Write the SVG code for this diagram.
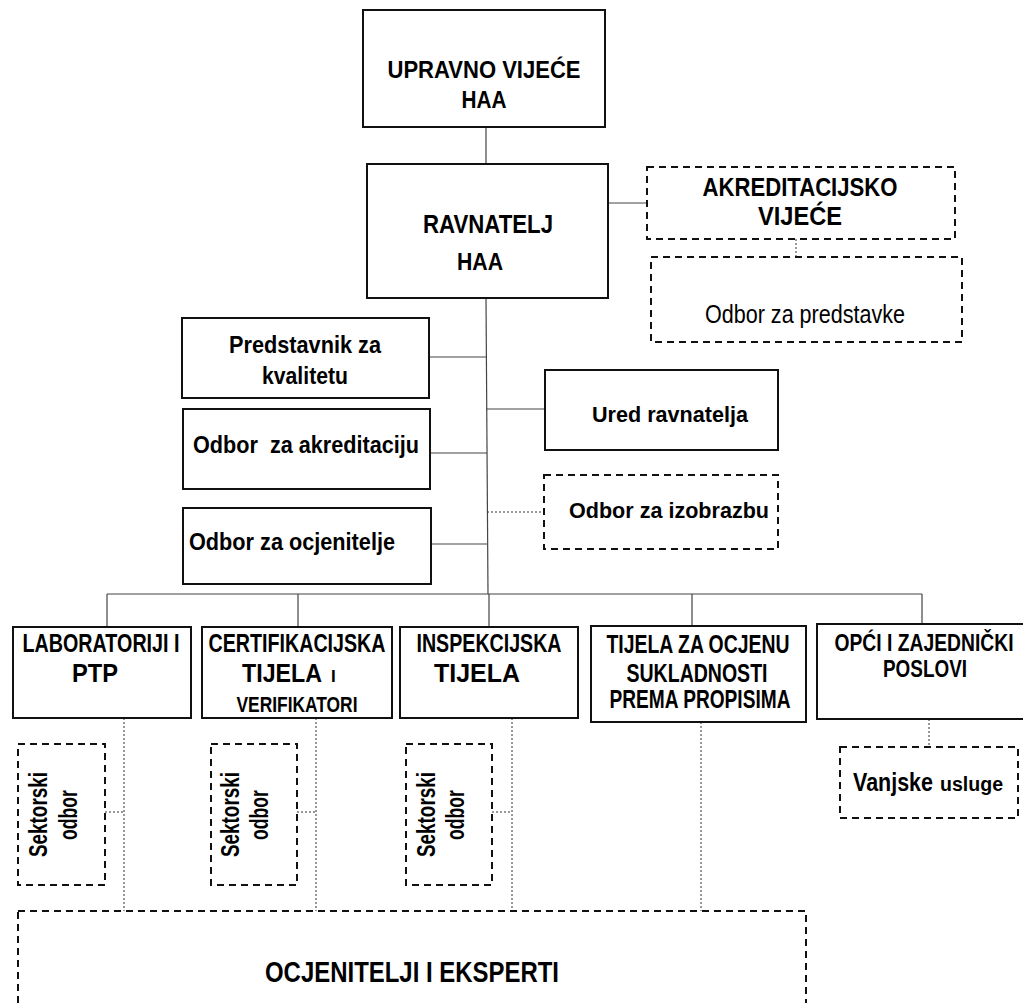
<svg xmlns="http://www.w3.org/2000/svg" width="1023" height="1003" viewBox="0 0 1023 1003">
<style>
.box{fill:#fff;stroke:#111;stroke-width:2}
.dbox{fill:#fff;stroke:#111;stroke-width:2;stroke-dasharray:7 5}
.ln{stroke:#444;stroke-width:1.2;fill:none}
.dot{stroke:#333;stroke-width:1;stroke-dasharray:2 2;fill:none}
text{font-family:"Liberation Sans",Arial,sans-serif;font-weight:bold;fill:#000;text-anchor:middle}
.reg{font-weight:normal}
.st{text-anchor:start}
</style>
<rect width="1023" height="1003" fill="#fff"/>
<g id="connectors">
<line class="ln" x1="486" y1="127" x2="486" y2="164"/>
<line class="ln" x1="608" y1="203" x2="647" y2="203"/>
<line class="dot" x1="796" y1="239" x2="796" y2="257"/>
<line class="ln" x1="486" y1="298" x2="488" y2="594"/>
<line class="ln" x1="429" y1="357" x2="486" y2="357"/>
<line class="ln" x1="430" y1="453" x2="487" y2="453"/>
<line class="ln" x1="431" y1="544" x2="487" y2="544"/>
<line class="ln" x1="486" y1="409" x2="545" y2="409"/>
<line class="dot" x1="487" y1="512" x2="544" y2="512"/>
<line class="ln" x1="107" y1="594" x2="922" y2="594"/>
<line class="ln" x1="107" y1="594" x2="107" y2="627"/>
<line class="ln" x1="298" y1="594" x2="298" y2="627"/>
<line class="ln" x1="489" y1="594" x2="489" y2="627"/>
<line class="ln" x1="692" y1="594" x2="692" y2="626"/>
<line class="ln" x1="922" y1="594" x2="922" y2="624"/>
<line class="dot" x1="124" y1="718" x2="124" y2="911"/>
<line class="dot" x1="316" y1="718" x2="316" y2="911"/>
<line class="dot" x1="512" y1="718" x2="512" y2="911"/>
<line class="dot" x1="701" y1="722" x2="701" y2="911"/>
<line class="dot" x1="929" y1="719" x2="929" y2="747" stroke="#777"/>
<line class="dot" x1="105" y1="812" x2="124" y2="812"/>
<line class="dot" x1="297" y1="812" x2="316" y2="812"/>
<line class="dot" x1="492" y1="812" x2="512" y2="812"/>
</g>
<g id="upravno">
<rect class="box" x="363" y="10" width="242" height="117"/>
<text x="484" y="78" font-size="23" textLength="193" lengthAdjust="spacingAndGlyphs">UPRAVNO VIJEĆE</text>
<text x="484" y="108" font-size="23" textLength="45" lengthAdjust="spacingAndGlyphs">HAA</text>
</g>
<g id="ravnatelj">
<rect class="box" x="367" y="164" width="241" height="134"/>
<text x="488" y="233" font-size="25" textLength="130" lengthAdjust="spacingAndGlyphs">RAVNATELJ</text>
<text x="480" y="270" font-size="24" textLength="46" lengthAdjust="spacingAndGlyphs">HAA</text>
</g>
<g id="akreditacijsko">
<rect class="dbox" x="647" y="167" width="308" height="72"/>
<text x="800" y="196" font-size="26" textLength="195" lengthAdjust="spacingAndGlyphs">AKREDITACIJSKO</text>
<text x="800" y="225" font-size="26" textLength="84" lengthAdjust="spacingAndGlyphs">VIJEĆE</text>
</g>
<g id="predstavke">
<rect class="dbox" x="651" y="257" width="311" height="85"/>
<text class="reg" x="805" y="323" font-size="26" textLength="200" lengthAdjust="spacingAndGlyphs">Odbor za predstavke</text>
</g>
<g id="predstavnik">
<rect class="box" x="182" y="318" width="247" height="80"/>
<text x="305" y="353" font-size="24" textLength="152" lengthAdjust="spacingAndGlyphs">Predstavnik za</text>
<text x="305" y="384" font-size="24" textLength="86" lengthAdjust="spacingAndGlyphs">kvalitetu</text>
</g>
<g id="akreditaciju">
<rect class="box" x="183" y="409" width="247" height="80"/>
<text x="306" y="453" font-size="24" textLength="226" lengthAdjust="spacingAndGlyphs" xml:space="preserve">Odbor  za akreditaciju</text>
</g>
<g id="ured">
<rect class="box" x="545" y="370" width="233" height="80"/>
<text x="670" y="422" font-size="22" textLength="156" lengthAdjust="spacingAndGlyphs">Ured ravnatelja</text>
</g>
<g id="izobrazbu">
<rect class="dbox" x="544" y="475" width="234" height="74"/>
<text x="669" y="518" font-size="22" textLength="200" lengthAdjust="spacingAndGlyphs">Odbor za izobrazbu</text>
</g>
<g id="ocjenitelje">
<rect class="box" x="183" y="508" width="248" height="76"/>
<text class="st" x="189" y="550" font-size="24" textLength="206" lengthAdjust="spacingAndGlyphs">Odbor za ocjenitelje</text>
</g>
<g id="laboratoriji">
<rect class="box" x="13" y="627" width="178" height="91"/>
<text x="101" y="652" font-size="25" textLength="157" lengthAdjust="spacingAndGlyphs">LABORATORIJI I</text>
<text x="95" y="682" font-size="25" textLength="46" lengthAdjust="spacingAndGlyphs">PTP</text>
</g>
<g id="certifikacijska">
<rect class="box" x="202" y="627" width="190" height="91"/>
<text x="297" y="652" font-size="25" textLength="177" lengthAdjust="spacingAndGlyphs">CERTIFIKACIJSKA</text>
<text class="st" x="242" y="682" font-size="25" textLength="80" lengthAdjust="spacingAndGlyphs">TIJELA</text>
<text class="st" x="331" y="682" font-size="17">I</text>
<text x="297" y="712" font-size="22" textLength="121" lengthAdjust="spacingAndGlyphs">VERIFIKATORI</text>
</g>
<g id="inspekcijska">
<rect class="box" x="400" y="627" width="178" height="91"/>
<text x="489" y="652" font-size="25" textLength="145" lengthAdjust="spacingAndGlyphs">INSPEKCIJSKA</text>
<text x="477" y="682" font-size="25" textLength="86" lengthAdjust="spacingAndGlyphs">TIJELA</text>
</g>
<g id="tijela">
<rect class="box" x="591" y="626" width="215" height="96"/>
<text x="698" y="653" font-size="25" textLength="183" lengthAdjust="spacingAndGlyphs">TIJELA ZA OCJENU</text>
<text x="697" y="682" font-size="25" textLength="141" lengthAdjust="spacingAndGlyphs">SUKLADNOSTI</text>
<text x="700" y="708" font-size="25" textLength="181" lengthAdjust="spacingAndGlyphs">PREMA PROPISIMA</text>
</g>
<g id="opci">
<path class="box" d="M1023,624 H817 V719 H1023"/>
<text transform="translate(924 651) scale(0.84 1)" font-size="23">OPĆI I ZAJEDNIČKI</text>
<text x="925" y="677" font-size="23" textLength="84" lengthAdjust="spacingAndGlyphs">POSLOVI</text>
</g>
<g id="sektorski1">
<rect class="dbox" x="18" y="744" width="87" height="141"/>
<text transform="translate(47,814.5) rotate(-90)" font-size="26" textLength="85" lengthAdjust="spacingAndGlyphs">Sektorski</text>
<text transform="translate(77,815) rotate(-90)" font-size="26" textLength="50" lengthAdjust="spacingAndGlyphs">odbor</text>
</g>
<g id="sektorski2">
<rect class="dbox" x="211" y="744" width="86" height="141"/>
<text transform="translate(239,814.5) rotate(-90)" font-size="26" textLength="85" lengthAdjust="spacingAndGlyphs">Sektorski</text>
<text transform="translate(268,815) rotate(-90)" font-size="26" textLength="50" lengthAdjust="spacingAndGlyphs">odbor</text>
</g>
<g id="sektorski3">
<rect class="dbox" x="406" y="744" width="86" height="141"/>
<text transform="translate(435,814.5) rotate(-90)" font-size="26" textLength="85" lengthAdjust="spacingAndGlyphs">Sektorski</text>
<text transform="translate(464,815) rotate(-90)" font-size="26" textLength="50" lengthAdjust="spacingAndGlyphs">odbor</text>
</g>
<g id="vanjske">
<rect class="dbox" x="840" y="747" width="178" height="71"/>
<text class="st" x="853" y="791" font-size="25" textLength="80" lengthAdjust="spacingAndGlyphs">Vanjske</text>
<text class="st" x="940" y="791" font-size="20" textLength="63" lengthAdjust="spacingAndGlyphs">usluge</text>
</g>
<g id="ocjenitelji">
<rect class="dbox" x="18" y="911" width="788" height="110"/>
<text x="412" y="982" font-size="29" textLength="294" lengthAdjust="spacingAndGlyphs">OCJENITELJI I EKSPERTI</text>
</g>
</svg>
